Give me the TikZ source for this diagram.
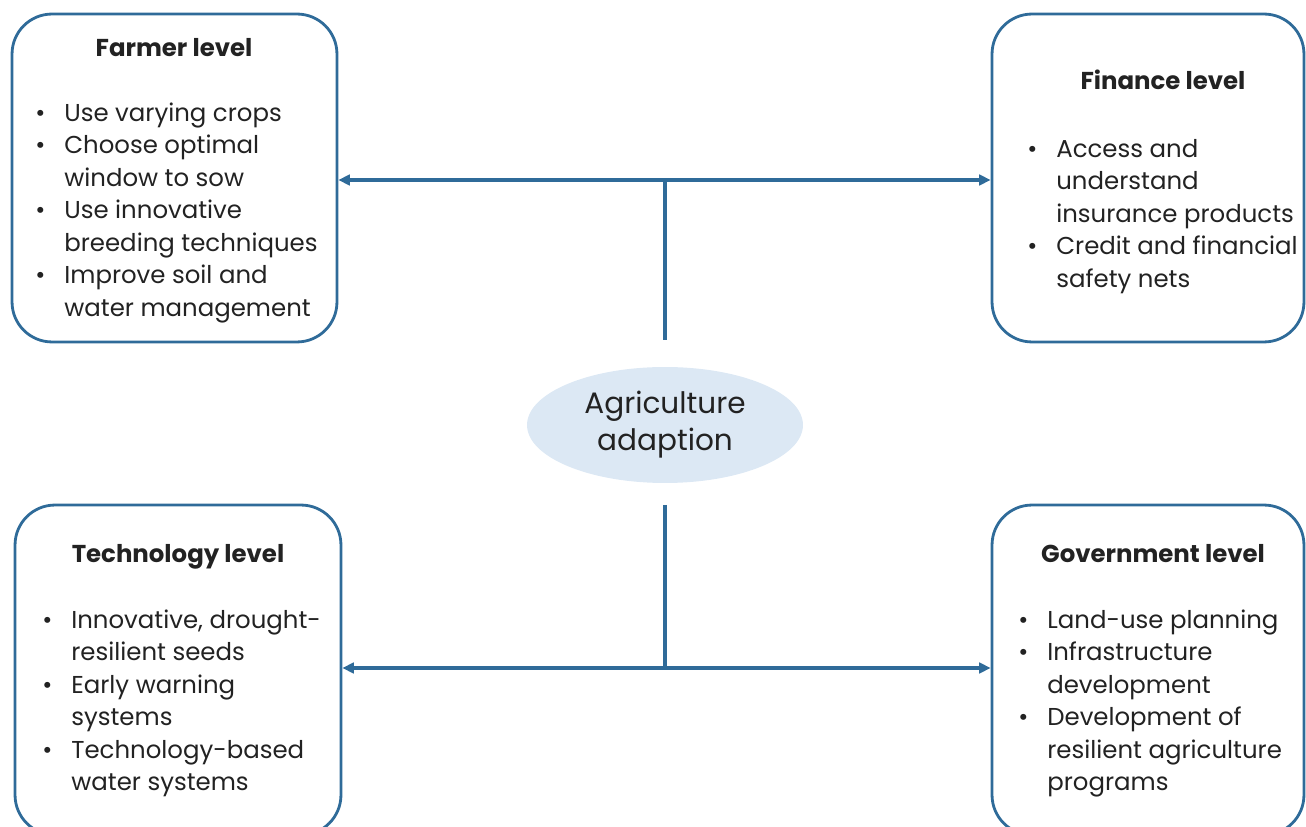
\documentclass[tikz,border=0pt]{standalone}
\usepackage{fontspec}
\setmainfont{Poppins}
\usetikzlibrary{arrows.meta,positioning,shapes.geometric}
\definecolor{LineBlue}{HTML}{2F6B99}
\definecolor{SoftBlue}{HTML}{DCE8F4}
\definecolor{Ink}{HTML}{222222}
\newcommand{\bul}{\makebox[16.5pt][l]{\textbullet}}
\newcommand{\ind}{\hspace*{16.5pt}}

\begin{document}
\begin{tikzpicture}[x=0.02cm,y=-0.02cm,
  levelbox/.style={draw=LineBlue,line width=1.6pt,rounded corners=0.8cm,inner sep=0},
  title/.style={anchor=base,font=\fontsize{13.9}{18.5}\selectfont\bfseries,text=Ink},
  items/.style={anchor=north west,inner sep=0,align=left,font=\fontsize{13.9}{18.5}\selectfont,text=Ink},
  link/.style={LineBlue,line width=1.9pt},
  tip/.style={link,-{Triangle[length=6.5pt,width=6pt]}}]
\useasboundingbox (0,0) rectangle (1306,827);
\clip (0,0) rectangle (1306,827);
% the four level boxes
\node[levelbox,minimum width=6.5cm,minimum height=6.56cm] (farmer) at (174.5,178) {};
\node[levelbox,minimum width=6.24cm,minimum height=6.56cm] (finance) at (1148,178) {};
\node[levelbox,minimum width=6.52cm,minimum height=6.6cm] (tech) at (178,670) {};
\node[levelbox,minimum width=6.24cm,minimum height=6.6cm] (gov) at (1148,670) {};
\foreach \nm/\x/\y/\lab in {farmer/174/57/Farmer level,finance/1163/90/Finance level,tech/178/562/Technology level,gov/1153/563/Government level}{\node[title] (\nm-title) at (\x,\y) {\lab};}
\node[items] (farmer-list) at (35,98) {\strut\bul Use varying crops\\\bul Choose optimal\\\ind window to sow\\\bul Use innovative\\\ind breeding techniques\\\bul Improve soil and\\\ind water management};
\node[items] (finance-list) at (1027,134) {\strut\bul Access and\\\ind understand\\\ind insurance products\\\bul Credit and financial\\\ind safety nets};
\node[items] (tech-list) at (42,605) {\strut\bul Innovative, drought-\\\ind resilient seeds\\\bul Early warning\\\ind systems\\\bul Technology-based\\\ind water systems};
\node[items] (gov-list) at (1018,605) {\strut\bul Land-use planning\\\bul Infrastructure\\\ind development\\\bul Development of\\\ind resilient agriculture\\\ind programs};
% centre
\node[ellipse,fill=SoftBlue,minimum width=5.52cm,minimum height=2.32cm,inner sep=0,align=center,font=\fontsize{16.8}{21}\selectfont,text=Ink] (hub) at (665,425) {Agriculture\\adaption};
% connectors
\coordinate (topj) at (665,180);
\coordinate (topv) at (665,340);
\coordinate (botj) at (665,668);
\coordinate (botv) at (665,505);
\draw[link] (topv) -- (topj);
\draw[tip] (topj) -- (topj -| farmer.east);
\draw[tip] (topj) -- (topj -| finance.west);
\draw[link] (botv) -- (botj);
\draw[tip] (botj) -- (botj -| tech.east);
\draw[tip] (botj) -- (botj -| gov.west);
\end{tikzpicture}
\end{document}
